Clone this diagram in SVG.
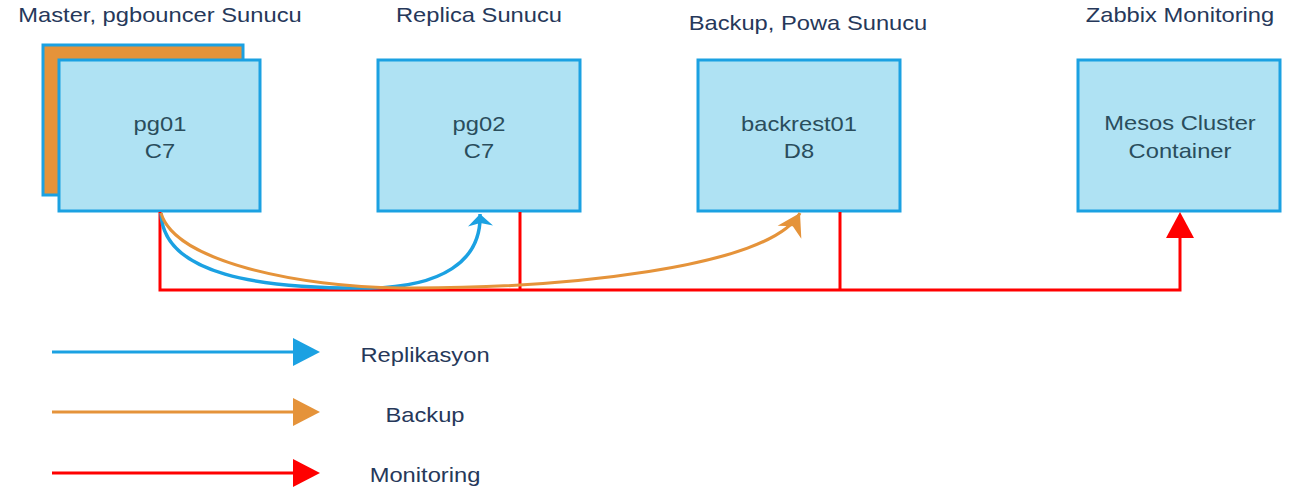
<svg xmlns="http://www.w3.org/2000/svg" width="1293" height="492" viewBox="0 0 1293 492">
<style>
.box{fill:#afe2f3;stroke:#1ba1e2;stroke-width:3}
.back{fill:#e5933a;stroke:#1ba1e2;stroke-width:3}
text{font-family:"Liberation Sans",Arial,sans-serif;font-size:21px;text-anchor:middle}
.title{fill:#26385a}
.lbl{fill:#2a4d5c}
.leg{fill:#26385a}
.red{fill:none;stroke:#ff0000;stroke-width:3}
.blue{fill:none;stroke:#1ba1e2;stroke-width:3.5}
.orange{fill:none;stroke:#e5933a;stroke-width:3}
</style>
<defs>
<marker id="hb" markerUnits="userSpaceOnUse" viewBox="-15 -14 17 28" refX="0" refY="0" markerWidth="17" markerHeight="28" orient="auto"><path d="M0,0 L-12,-12.5 L-9,0 L-12,12.5 Z" fill="#1ba1e2"/></marker>
<marker id="ho" markerUnits="userSpaceOnUse" viewBox="-24 -15 26 30" refX="0" refY="0" markerWidth="26" markerHeight="30" orient="auto"><path d="M0,0 L-22,-13.5 L-15,0 L-22,13.5 Z" fill="#e5933a"/></marker>
</defs>
<g id="pg01">
<rect class="back" x="43" y="45" width="200" height="150"/>
<rect class="box" x="59" y="60" width="201" height="151"/>
<text class="lbl" transform="translate(160,131) scale(1.13,1)">pg01</text>
<text class="lbl" transform="translate(160,158) scale(1.13,1)">C7</text>
<text class="title" transform="translate(160,22) scale(1.13,1)">Master, pgbouncer Sunucu</text>
</g>
<g id="pg02">
<rect class="box" x="378" y="60" width="202" height="151"/>
<text class="lbl" transform="translate(479,131) scale(1.13,1)">pg02</text>
<text class="lbl" transform="translate(479,158) scale(1.13,1)">C7</text>
<text class="title" transform="translate(479,22) scale(1.13,1)">Replica Sunucu</text>
</g>
<g id="backrest01">
<rect class="box" x="698" y="60" width="202" height="151"/>
<text class="lbl" transform="translate(799,131) scale(1.13,1)">backrest01</text>
<text class="lbl" transform="translate(799,158) scale(1.13,1)">D8</text>
<text class="title" transform="translate(808,30) scale(1.13,1)">Backup, Powa Sunucu</text>
</g>
<g id="mesos">
<rect class="box" x="1078" y="60" width="202" height="151"/>
<text class="lbl" transform="translate(1180,130) scale(1.13,1)">Mesos Cluster</text>
<text class="lbl" transform="translate(1180,158) scale(1.13,1)">Container</text>
<text class="title" transform="translate(1180,22) scale(1.13,1)">Zabbix Monitoring</text>
</g>
<g id="connectors">
<path class="red" d="M160,212 V290 H1180 V236"/>
<path class="red" d="M520,212 V290"/>
<path class="red" d="M840,212 V290"/>
<path d="M1180,212 L1194,238 L1166,238 Z" fill="#ff0000"/>
<path class="blue" d="M161,213 C163,275 260,289 370,288 C440,287 482,262 480,214" marker-end="url(#hb)"/>
<path class="orange" d="M161,213 C175,262 300,287 400,288 C560,289 770,268 800,213" marker-end="url(#ho)"/>
</g>
<g id="legend">
<line x1="52" y1="352" x2="296" y2="352" stroke="#1ba1e2" stroke-width="3"/>
<path d="M320,352 L293,338 L293,366 Z" fill="#1ba1e2"/>
<text class="leg" transform="translate(425,362) scale(1.13,1)">Replikasyon</text>
<line x1="52" y1="412" x2="296" y2="412" stroke="#e5933a" stroke-width="3"/>
<path d="M320,412 L293,398 L293,426 Z" fill="#e5933a"/>
<text class="leg" transform="translate(425,422) scale(1.13,1)">Backup</text>
<line x1="52" y1="473" x2="296" y2="473" stroke="#ff0000" stroke-width="3"/>
<path d="M320,473 L293,459 L293,487 Z" fill="#ff0000"/>
<text class="leg" transform="translate(425,482) scale(1.13,1)">Monitoring</text>
</g>
</svg>
